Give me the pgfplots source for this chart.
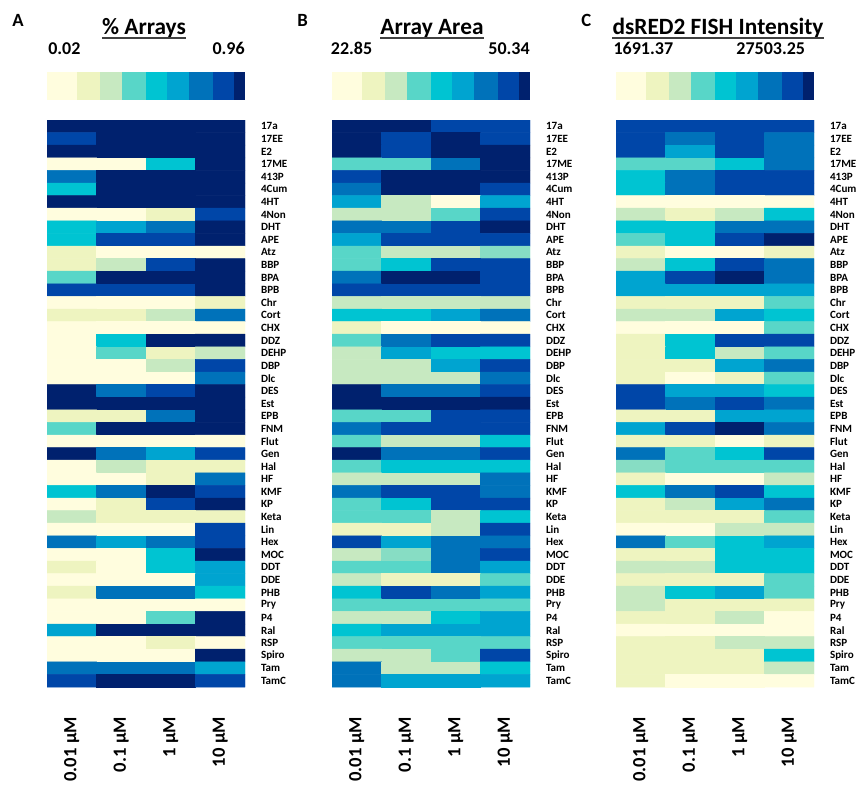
\documentclass[border=0pt]{standalone}
\usepackage{fontspec}
\setmainfont{Carlito}
\usepackage{pgfplots}
\pgfplotsset{compat=1.18}
\definecolor{c0}{RGB}{255,253,222}
\definecolor{c1}{RGB}{238,244,192}
\definecolor{c2}{RGB}{199,233,193}
\definecolor{c3}{RGB}{135,221,196}
\definecolor{c4}{RGB}{88,214,200}
\definecolor{c5}{RGB}{0,196,210}
\definecolor{c6}{RGB}{0,164,208}
\definecolor{c7}{RGB}{0,114,186}
\definecolor{c8}{RGB}{0,70,168}
\definecolor{c9}{RGB}{0,33,110}
\pgfplotsset{
 hmstyle/.style={
  scale only axis, width=148.5pt, height=425.25pt, anchor=south west,
  xmin=-0.5, xmax=3.5, ymin=-0.5, ymax=44.5, y dir=reverse,
  enlargelimits=false,
  colormap={hm}{rgb255=(255,253,222) rgb255=(238,244,192) rgb255=(199,233,193) rgb255=(135,221,196) rgb255=(88,214,200) rgb255=(0,196,210) rgb255=(0,164,208) rgb255=(0,114,186) rgb255=(0,70,168) rgb255=(0,33,110)},
  colormap access=direct,
  xtick={0,1,2,3},
  xticklabels={0.01 µM,0.1 µM,1 µM,10 µM},
  ytick={0,...,44},
  yticklabels={17a,17EE,E2,17ME,413P,4Cum,4HT,4Non,DHT,APE,Atz,BBP,BPA,BPB,Chr,Cort,CHX,DDZ,DEHP,DBP,Dlc,DES,Est,EPB,FNM,Flut,Gen,Hal,HF,KMF,KP,Keta,Lin,Hex,MOC,DDT,DDE,PHB,Pry,P4,Ral,RSP,Spiro,Tam,TamC},
  yticklabel pos=right,
  axis line style={draw=none},
  major tick length=0pt,
  xticklabel style={rotate=90, anchor=east, font=\fontsize{14}{14}\selectfont\bfseries},
  yticklabel style={anchor=west, font=\fontsize{8.3}{9}\selectfont\bfseries},
  xticklabel shift=19pt,
  yticklabel shift=8.5pt,
 },
 cbstyle/.style={
  scale only axis, width=148.5pt, height=21pt, anchor=south west,
  xmin=0, xmax=1, ymin=0, ymax=1, hide axis,
 }
}
\newcommand\cbplots{%
\addplot[fill=c0,draw=none] coordinates {(0,0)(0.149,0)(0.149,1)(0,1)} --cycle;
\addplot[fill=c1,draw=none] coordinates {(0.149,0)(0.27,0)(0.27,1)(0.149,1)} --cycle;
\addplot[fill=c2,draw=none] coordinates {(0.27,0)(0.378,0)(0.378,1)(0.27,1)} --cycle;
\addplot[fill=c4,draw=none] coordinates {(0.378,0)(0.5,0)(0.5,1)(0.378,1)} --cycle;
\addplot[fill=c5,draw=none] coordinates {(0.5,0)(0.608,0)(0.608,1)(0.5,1)} --cycle;
\addplot[fill=c6,draw=none] coordinates {(0.608,0)(0.716,0)(0.716,1)(0.608,1)} --cycle;
\addplot[fill=c7,draw=none] coordinates {(0.716,0)(0.838,0)(0.838,1)(0.716,1)} --cycle;
\addplot[fill=c8,draw=none] coordinates {(0.838,0)(0.946,0)(0.946,1)(0.838,1)} --cycle;
\addplot[fill=c9,draw=none] coordinates {(0.946,0)(1,0)(1,1)(0.946,1)} --cycle;
}
\begin{document}
\begin{tikzpicture}
% ---------- Panel A ----------
\begin{axis}[hmstyle, at={(35.25pt,-515.25pt)}]
\addplot[matrix plot*, mesh/cols=4, point meta=explicit] table[row sep=\\, meta=c] {
x y c\\
0 0 9\\ 1 0 9\\ 2 0 9\\ 3 0 9\\
0 1 8\\ 1 1 9\\ 2 1 9\\ 3 1 9\\
0 2 9\\ 1 2 9\\ 2 2 9\\ 3 2 9\\
0 3 0\\ 1 3 0\\ 2 3 5\\ 3 3 9\\
0 4 7\\ 1 4 9\\ 2 4 9\\ 3 4 9\\
0 5 5\\ 1 5 9\\ 2 5 9\\ 3 5 9\\
0 6 9\\ 1 6 9\\ 2 6 9\\ 3 6 9\\
0 7 0\\ 1 7 0\\ 2 7 1\\ 3 7 8\\
0 8 5\\ 1 8 6\\ 2 8 7\\ 3 8 9\\
0 9 5\\ 1 9 8\\ 2 9 8\\ 3 9 9\\
0 10 1\\ 1 10 0\\ 2 10 0\\ 3 10 0\\
0 11 1\\ 1 11 2\\ 2 11 8\\ 3 11 9\\
0 12 4\\ 1 12 9\\ 2 12 9\\ 3 12 9\\
0 13 8\\ 1 13 8\\ 2 13 8\\ 3 13 9\\
0 14 0\\ 1 14 0\\ 2 14 0\\ 3 14 1\\
0 15 1\\ 1 15 1\\ 2 15 2\\ 3 15 7\\
0 16 0\\ 1 16 0\\ 2 16 0\\ 3 16 0\\
0 17 0\\ 1 17 5\\ 2 17 9\\ 3 17 9\\
0 18 0\\ 1 18 4\\ 2 18 1\\ 3 18 2\\
0 19 0\\ 1 19 0\\ 2 19 2\\ 3 19 8\\
0 20 0\\ 1 20 0\\ 2 20 0\\ 3 20 7\\
0 21 9\\ 1 21 7\\ 2 21 8\\ 3 21 9\\
0 22 9\\ 1 22 9\\ 2 22 9\\ 3 22 9\\
0 23 1\\ 1 23 1\\ 2 23 7\\ 3 23 9\\
0 24 4\\ 1 24 9\\ 2 24 9\\ 3 24 9\\
0 25 0\\ 1 25 0\\ 2 25 0\\ 3 25 0\\
0 26 9\\ 1 26 7\\ 2 26 6\\ 3 26 8\\
0 27 0\\ 1 27 2\\ 2 27 1\\ 3 27 1\\
0 28 0\\ 1 28 0\\ 2 28 1\\ 3 28 7\\
0 29 5\\ 1 29 7\\ 2 29 9\\ 3 29 8\\
0 30 0\\ 1 30 1\\ 2 30 8\\ 3 30 9\\
0 31 2\\ 1 31 1\\ 2 31 1\\ 3 31 1\\
0 32 0\\ 1 32 0\\ 2 32 0\\ 3 32 8\\
0 33 7\\ 1 33 6\\ 2 33 7\\ 3 33 8\\
0 34 0\\ 1 34 0\\ 2 34 5\\ 3 34 9\\
0 35 1\\ 1 35 0\\ 2 35 5\\ 3 35 6\\
0 36 0\\ 1 36 0\\ 2 36 0\\ 3 36 6\\
0 37 1\\ 1 37 7\\ 2 37 7\\ 3 37 5\\
0 38 0\\ 1 38 0\\ 2 38 0\\ 3 38 0\\
0 39 0\\ 1 39 0\\ 2 39 4\\ 3 39 9\\
0 40 6\\ 1 40 9\\ 2 40 9\\ 3 40 9\\
0 41 0\\ 1 41 0\\ 2 41 1\\ 3 41 0\\
0 42 0\\ 1 42 0\\ 2 42 0\\ 3 42 9\\
0 43 7\\ 1 43 7\\ 2 43 7\\ 3 43 6\\
0 44 8\\ 1 44 9\\ 2 44 9\\ 3 44 8\\
};
\end{axis}
% ---------- Panel B ----------
\begin{axis}[hmstyle, at={(249pt,-515.25pt)}]
\addplot[matrix plot*, mesh/cols=4, point meta=explicit] table[row sep=\\, meta=c] {
x y c\\
0 0 9\\ 1 0 9\\ 2 0 8\\ 3 0 8\\
0 1 9\\ 1 1 8\\ 2 1 9\\ 3 1 8\\
0 2 9\\ 1 2 8\\ 2 2 9\\ 3 2 9\\
0 3 4\\ 1 3 4\\ 2 3 7\\ 3 3 9\\
0 4 8\\ 1 4 9\\ 2 4 9\\ 3 4 9\\
0 5 7\\ 1 5 9\\ 2 5 9\\ 3 5 8\\
0 6 6\\ 1 6 2\\ 2 6 0\\ 3 6 6\\
0 7 2\\ 1 7 2\\ 2 7 4\\ 3 7 8\\
0 8 7\\ 1 8 7\\ 2 8 8\\ 3 8 9\\
0 9 6\\ 1 9 8\\ 2 9 8\\ 3 9 8\\
0 10 4\\ 1 10 2\\ 2 10 2\\ 3 10 3\\
0 11 4\\ 1 11 5\\ 2 11 8\\ 3 11 8\\
0 12 7\\ 1 12 9\\ 2 12 9\\ 3 12 8\\
0 13 8\\ 1 13 8\\ 2 13 8\\ 3 13 8\\
0 14 2\\ 1 14 2\\ 2 14 2\\ 3 14 2\\
0 15 5\\ 1 15 5\\ 2 15 6\\ 3 15 7\\
0 16 1\\ 1 16 0\\ 2 16 0\\ 3 16 0\\
0 17 4\\ 1 17 7\\ 2 17 8\\ 3 17 8\\
0 18 2\\ 1 18 6\\ 2 18 5\\ 3 18 5\\
0 19 2\\ 1 19 2\\ 2 19 6\\ 3 19 8\\
0 20 2\\ 1 20 2\\ 2 20 2\\ 3 20 7\\
0 21 9\\ 1 21 7\\ 2 21 7\\ 3 21 8\\
0 22 9\\ 1 22 9\\ 2 22 9\\ 3 22 9\\
0 23 4\\ 1 23 4\\ 2 23 8\\ 3 23 8\\
0 24 7\\ 1 24 8\\ 2 24 8\\ 3 24 8\\
0 25 4\\ 1 25 2\\ 2 25 2\\ 3 25 5\\
0 26 9\\ 1 26 7\\ 2 26 7\\ 3 26 8\\
0 27 4\\ 1 27 5\\ 2 27 5\\ 3 27 5\\
0 28 2\\ 1 28 2\\ 2 28 2\\ 3 28 7\\
0 29 7\\ 1 29 8\\ 2 29 8\\ 3 29 7\\
0 30 4\\ 1 30 5\\ 2 30 8\\ 3 30 8\\
0 31 4\\ 1 31 4\\ 2 31 2\\ 3 31 5\\
0 32 1\\ 1 32 1\\ 2 32 2\\ 3 32 8\\
0 33 8\\ 1 33 6\\ 2 33 7\\ 3 33 7\\
0 34 2\\ 1 34 3\\ 2 34 7\\ 3 34 8\\
0 35 4\\ 1 35 4\\ 2 35 7\\ 3 35 6\\
0 36 2\\ 1 36 1\\ 2 36 1\\ 3 36 4\\
0 37 5\\ 1 37 8\\ 2 37 7\\ 3 37 6\\
0 38 4\\ 1 38 4\\ 2 38 4\\ 3 38 4\\
0 39 2\\ 1 39 2\\ 2 39 5\\ 3 39 6\\
0 40 5\\ 1 40 6\\ 2 40 6\\ 3 40 6\\
0 41 4\\ 1 41 4\\ 2 41 4\\ 3 41 4\\
0 42 2\\ 1 42 2\\ 2 42 4\\ 3 42 8\\
0 43 7\\ 1 43 2\\ 2 43 2\\ 3 43 5\\
0 44 7\\ 1 44 6\\ 2 44 6\\ 3 44 6\\
};
\end{axis}
% ---------- Panel C ----------
\begin{axis}[hmstyle, at={(462pt,-515.25pt)}]
\addplot[matrix plot*, mesh/cols=4, point meta=explicit] table[row sep=\\, meta=c] {
x y c\\
0 0 8\\ 1 0 8\\ 2 0 8\\ 3 0 8\\
0 1 8\\ 1 1 7\\ 2 1 8\\ 3 1 7\\
0 2 8\\ 1 2 6\\ 2 2 8\\ 3 2 7\\
0 3 4\\ 1 3 4\\ 2 3 5\\ 3 3 7\\
0 4 5\\ 1 4 7\\ 2 4 8\\ 3 4 8\\
0 5 5\\ 1 5 7\\ 2 5 8\\ 3 5 8\\
0 6 0\\ 1 6 0\\ 2 6 0\\ 3 6 0\\
0 7 2\\ 1 7 1\\ 2 7 2\\ 3 7 5\\
0 8 5\\ 1 8 5\\ 2 8 7\\ 3 8 7\\
0 9 4\\ 1 9 5\\ 2 9 8\\ 3 9 9\\
0 10 1\\ 1 10 0\\ 2 10 0\\ 3 10 1\\
0 11 2\\ 1 11 5\\ 2 11 8\\ 3 11 7\\
0 12 6\\ 1 12 8\\ 2 12 9\\ 3 12 7\\
0 13 6\\ 1 13 6\\ 2 13 6\\ 3 13 6\\
0 14 1\\ 1 14 1\\ 2 14 1\\ 3 14 4\\
0 15 2\\ 1 15 2\\ 2 15 6\\ 3 15 5\\
0 16 0\\ 1 16 0\\ 2 16 0\\ 3 16 4\\
0 17 1\\ 1 17 5\\ 2 17 8\\ 3 17 8\\
0 18 1\\ 1 18 5\\ 2 18 2\\ 3 18 4\\
0 19 1\\ 1 19 1\\ 2 19 6\\ 3 19 7\\
0 20 1\\ 1 20 0\\ 2 20 1\\ 3 20 4\\
0 21 8\\ 1 21 6\\ 2 21 6\\ 3 21 5\\
0 22 8\\ 1 22 7\\ 2 22 8\\ 3 22 7\\
0 23 1\\ 1 23 1\\ 2 23 6\\ 3 23 6\\
0 24 6\\ 1 24 8\\ 2 24 9\\ 3 24 7\\
0 25 1\\ 1 25 1\\ 2 25 0\\ 3 25 1\\
0 26 7\\ 1 26 4\\ 2 26 5\\ 3 26 8\\
0 27 3\\ 1 27 4\\ 2 27 4\\ 3 27 4\\
0 28 1\\ 1 28 0\\ 2 28 0\\ 3 28 2\\
0 29 5\\ 1 29 7\\ 2 29 8\\ 3 29 5\\
0 30 1\\ 1 30 2\\ 2 30 6\\ 3 30 7\\
0 31 1\\ 1 31 1\\ 2 31 1\\ 3 31 4\\
0 32 0\\ 1 32 0\\ 2 32 2\\ 3 32 2\\
0 33 7\\ 1 33 4\\ 2 33 5\\ 3 33 6\\
0 34 1\\ 1 34 1\\ 2 34 5\\ 3 34 5\\
0 35 2\\ 1 35 2\\ 2 35 5\\ 3 35 5\\
0 36 1\\ 1 36 1\\ 2 36 1\\ 3 36 4\\
0 37 2\\ 1 37 5\\ 2 37 6\\ 3 37 4\\
0 38 2\\ 1 38 1\\ 2 38 1\\ 3 38 1\\
0 39 1\\ 1 39 1\\ 2 39 2\\ 3 39 0\\
0 40 0\\ 1 40 0\\ 2 40 0\\ 3 40 0\\
0 41 1\\ 1 41 1\\ 2 41 2\\ 3 41 2\\
0 42 1\\ 1 42 1\\ 2 42 1\\ 3 42 5\\
0 43 1\\ 1 43 1\\ 2 43 1\\ 3 43 2\\
0 44 1\\ 1 44 0\\ 2 44 0\\ 3 44 0\\
};
\end{axis}
% ---------- colour bars ----------
\begin{axis}[cbstyle, at={(35.25pt,-75pt)}] \cbplots \end{axis}
\begin{axis}[cbstyle, at={(249pt,-75pt)}] \cbplots \end{axis}
\begin{axis}[cbstyle, at={(462pt,-75pt)}] \cbplots \end{axis}
% ---------- colour bar labels ----------
\begin{scope}[every node/.style={inner sep=0pt, font=\fontsize{13.5}{14}\selectfont\bfseries}]
\node[anchor=base west] at (36pt,-40.5pt) {0.02};
\node[anchor=base east] at (183.75pt,-40.5pt) {0.96};
\node[anchor=base west] at (248pt,-40.5pt) {22.85};
\node[anchor=base east] at (397.5pt,-40.5pt) {50.34};
\node[anchor=base west] at (460pt,-40.5pt) {1691.37};
\node[anchor=base east] at (604pt,-40.5pt) {27503.25};
\end{scope}
% ---------- titles ----------
\begin{scope}[every node/.style={inner sep=0pt, font=\fontsize{17.5}{18}\selectfont\bfseries}]
\node[anchor=base] (t1) at (108pt,-25.5pt) {\% Arrays};
\node[anchor=base] (t2) at (324pt,-25.5pt) {Array Area};
\node[anchor=base] (t3) at (538.5pt,-25.5pt) {dsRED2 FISH Intensity};
\end{scope}
\foreach \t in {t1,t2,t3}{
  \draw[line width=1.2pt, black!75] ([yshift=-3pt]\t.base west) -- ([yshift=-3pt]\t.base east);
}
\begin{scope}[every node/.style={inner sep=0pt, anchor=base west, font=\fontsize{14}{14}\selectfont\bfseries}]
\node at (9pt,-19.5pt) {A};
\node at (222.75pt,-19.5pt) {B};
\node at (435.75pt,-19.5pt) {C};
\end{scope}
\pgfresetboundingbox
\path (0pt,0pt) rectangle (642pt,-589.5pt);
\end{tikzpicture}
\end{document}
